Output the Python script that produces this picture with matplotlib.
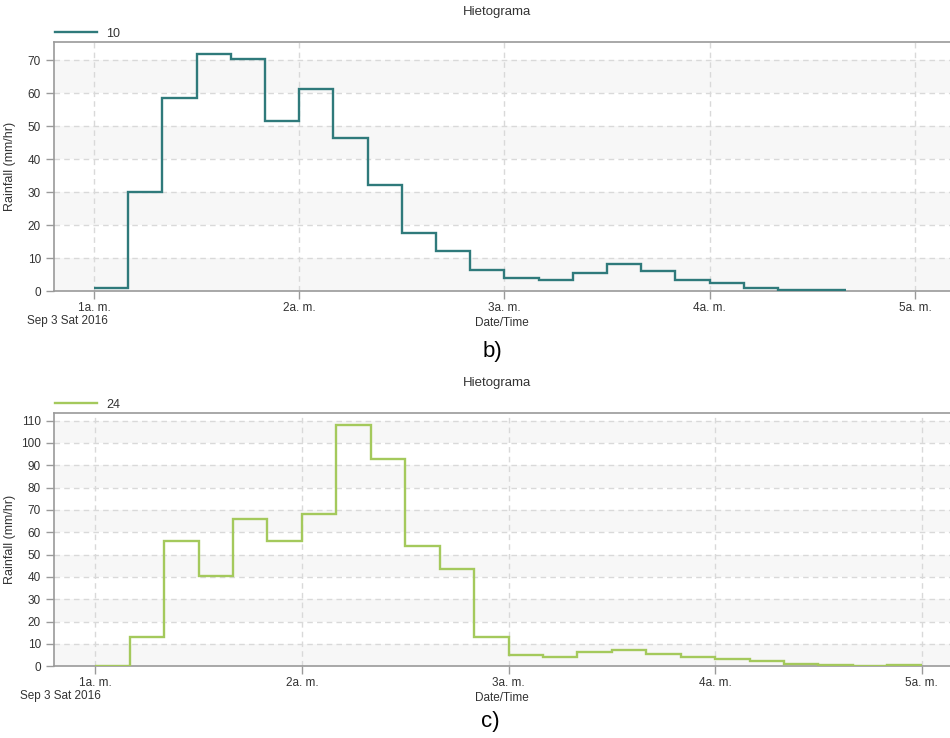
import matplotlib
matplotlib.use('Agg')
import matplotlib.pyplot as plt
import matplotlib.dates as mdates
import numpy as np
import pandas as pd

plt.rcParams['font.family'] = ['Liberation Sans', 'DejaVu Sans']

# rainfall intensity (mm/hr), one value per 10-minute block starting at 1:00
rain_10 = [1.0, 30.0, 58.5, 72.0, 70.2, 51.6, 61.3, 46.3, 32.0, 17.7, 12.0, 6.3,
           3.8, 3.2, 5.6, 8.1, 6.1, 3.2, 2.3, 0.8, 0.4, 0.4]
rain_24 = [0.0, 12.9, 56.3, 40.3, 66.0, 56.3, 68.3, 108.0, 92.7, 53.8, 43.5, 12.9,
           4.9, 4.2, 6.4, 7.2, 5.6, 4.2, 3.1, 2.2, 0.9, 0.5, 0.0, 0.5]
start_time = '2016-09-03 01:00'
step = '10min'
hour_ticks = ['2016-09-03 01:00', '2016-09-03 02:00', '2016-09-03 03:00',
              '2016-09-03 04:00', '2016-09-03 05:00']
hour_labels = ['1a. m.', '2a. m.', '3a. m.', '4a. m.', '5a. m.']

GRID = '#d9d9d9'
BAND = '#f7f7f7'
FRAME = '#9a9a9a'
TXT = '#333333'

fig = plt.figure(figsize=(9.5, 7.38), dpi=100)
W, H = 950, 738


def px(x, y):
    return x / W, 1 - y / H


def draw_panel(ax, values, color, name, yticks, ylim, xlim_h):
    edges = pd.date_range(start_time, periods=len(values) + 1, freq=step)
    ax.stairs(values, mdates.date2num(edges), baseline=None, color=color,
              lw=1.7, zorder=4, label=name)

    base = pd.Timestamp('2016-09-03')
    ax.set_xlim(mdates.date2num(base + pd.Timedelta(hours=xlim_h[0])),
                mdates.date2num(base + pd.Timedelta(hours=xlim_h[1])))
    ax.set_ylim(*ylim)

    # alternating light bands between gridlines
    for i in range(0, len(yticks) - 1, 2):
        ax.axhspan(yticks[i], yticks[i + 1], color=BAND, lw=0, zorder=0)

    ticks = mdates.date2num(pd.to_datetime(hour_ticks))
    ax.set_xticks(ticks)
    ax.set_xticklabels(hour_labels)
    ax.set_yticks(yticks)
    for t in ticks:
        ax.axvline(t, color=GRID, lw=1, ls=(0, (4, 3)), zorder=1)
    for v in yticks[1:]:
        ax.axhline(v, color=GRID, lw=1, ls=(0, (4, 3)), zorder=1)

    ax.tick_params(axis='both', colors=FRAME, labelcolor=TXT, labelsize=8.5,
                   length=6, width=1)
    ax.tick_params(axis='x', pad=2)
    for s in ['left', 'top', 'bottom']:
        ax.spines[s].set_color(FRAME)
        ax.spines[s].set_linewidth(1.2)
    ax.spines['right'].set_visible(False)

    ax.set_xlabel('Date/Time', fontsize=8.5, color=TXT, labelpad=2)
    ax.set_ylabel('Rainfall (mm/hr)', fontsize=9, color=TXT)
    ax.yaxis.set_label_coords(-0.042, 0.5)

    ax.legend(loc='lower left', bbox_to_anchor=(0, 1.005), frameon=False,
              fontsize=9, handlelength=3.3, borderpad=0, borderaxespad=0.1,
              handletextpad=0.8, labelcolor=TXT)


ax1 = fig.add_axes([54 / W, 1 - 291 / H, 896 / W, 249 / H])
draw_panel(ax1, rain_10, '#2f7a7b', '10', list(range(0, 71, 10)), (0, 75.5),
           (0.805, 5.171))

ax2 = fig.add_axes([54 / W, 1 - 666.3 / H, 896 / W, 253 / H])
draw_panel(ax2, rain_24, '#a4c95c', '24', list(range(0, 111, 10)), (0, 113.3),
           (0.800, 5.137))

fig.text(*px(497, 12), 'Hietograma', ha='center', va='center', fontsize=9.5, color=TXT)
fig.text(*px(27, 321), 'Sep 3 Sat 2016', ha='left', va='center', fontsize=8.5, color=TXT)
fig.text(*px(492, 352), 'b)', ha='center', va='center', fontsize=16, color='black')

fig.text(*px(497, 383), 'Hietograma', ha='center', va='center', fontsize=9.5, color=TXT)
fig.text(*px(20, 696), 'Sep 3 Sat 2016', ha='left', va='center', fontsize=8.5, color=TXT)
fig.text(*px(490, 722), 'c)', ha='center', va='center', fontsize=16, color='black')

fig.savefig('out.png', dpi=100)
